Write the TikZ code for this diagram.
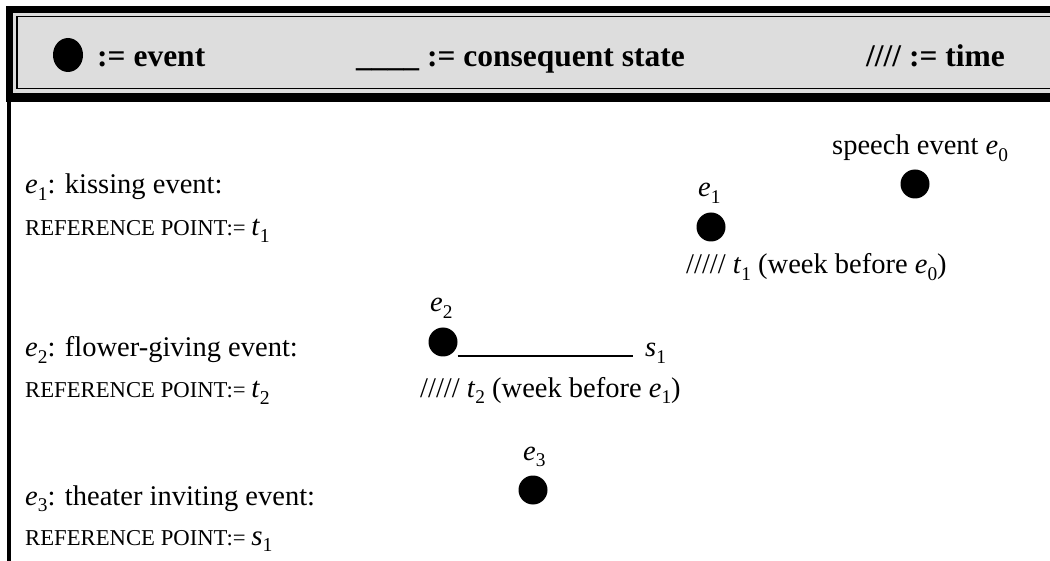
\documentclass[tikz,border=0pt]{standalone}
\usepackage{fontspec}
\setmainfont{Liberation Serif}
\definecolor{hdrgray}{RGB}{221,221,221}
\newcommand{\sub}[1]{\raisebox{-0.22em}{\scalebox{0.68}{#1}}}
\newcommand{\iv}[2]{\textit{#1}\sub{#2}}
\tikzset{
  body/.style={anchor=base west, inner sep=0pt, font=\fontsize{28.5}{30}\selectfont},
  refpt/.style={anchor=base west, inner sep=0pt, font=\fontsize{22.7}{24}\selectfont},
  hdr/.style={anchor=base west, inner sep=0pt, font=\fontsize{31.5}{33}\selectfont\bfseries},
  evdot/.style={circle, fill=black, minimum size=29pt, inner sep=0pt},
  statel/.style={line width=1.8pt}
}
\newcommand{\bigt}[2]{{\fontsize{29}{30}\selectfont\iv{#1}{#2}}}
\begin{document}
\begin{tikzpicture}[x=1pt,y=-1pt]
\useasboundingbox (0,0) rectangle (1050,561);
\clip (0,0) rectangle (1050,561);
% header frame
\fill[black] (6,6) rectangle (1060,102);
\fill[hdrgray] (13,13) rectangle (1060,93);
\draw[black, line width=1.5pt, fill=hdrgray] (16.75,16.75) rectangle (1070,88.75);
% body left border
\fill[black] (6.5,100) rectangle (10.5,561);
% header legend
\fill[black] (68,55) ellipse [x radius=15, y radius=17];
\node[hdr] (lg1) at (97,67) {:= event};
\node[hdr] (lg2) at (356,67) {\_\_\_\_ := consequent state};
\node[hdr] (lg3) at (866,67) {//// := time};
% row 1
\node[body] (r1t) at (25,194) {\iv{e}{1}: kissing event:};
\node[refpt] (r1r) at (25,236) {REFERENCE POINT:= \bigt{t}{1}};
\node[body] (spl) at (832,155) {speech event \iv{e}{0}};
\node[evdot] (e0) at (915,184) {};
\node[body] (e1l) at (698,197) {\iv{e}{1}};
\node[evdot] (e1) at (711,227) {};
\node[body] (t1) at (686,274) {///// \iv{t}{1} (week before \iv{e}{0})};
% row 2
\node[body] (r2t) at (25,357) {\iv{e}{2}: flower-giving event:};
\node[refpt] (r2r) at (25,398) {REFERENCE POINT:= \bigt{t}{2}};
\node[body] (e2l) at (430,312) {\iv{e}{2}};
\node[evdot] (e2) at (443,342) {};
\coordinate (s1end) at (633,356);
\draw[statel] (e2.east |- s1end) -- (s1end);
\node[body] (s1l) at (645,357) {\iv{s}{1}};
\node[body] (t2) at (420,397) {///// \iv{t}{2} (week before \iv{e}{1})};
% row 3
\node[body] (r3t) at (25,505) {\iv{e}{3}: theater inviting event:};
\node[refpt] (r3r) at (25,545) {REFERENCE POINT:= \bigt{s}{1}};
\node[body] (e3l) at (523,460) {\iv{e}{3}};
\node[evdot] (e3) at (533,490) {};
\end{tikzpicture}
\end{document}
